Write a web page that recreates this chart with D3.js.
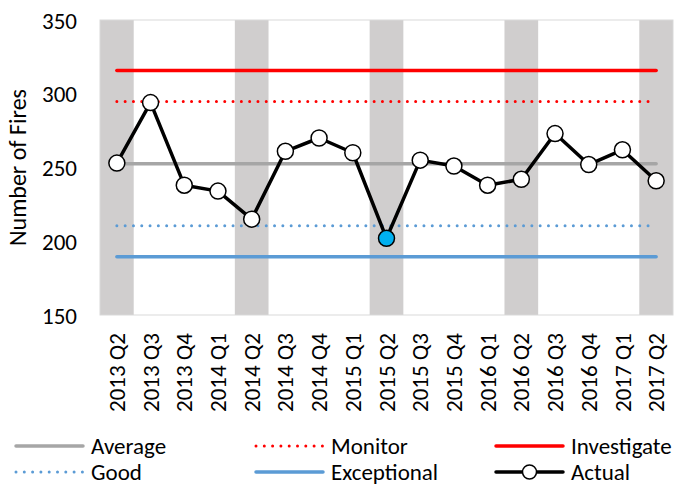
<!DOCTYPE html>
<html>
<head>
<meta charset="utf-8">
<script src="https://cdn.jsdelivr.net/npm/d3@7"></script>
<style>
  html, body { margin: 0; padding: 0; background: #fff; }
  svg { display: block; }
  text { font-family: Carlito, Lato, "Open Sans", sans-serif; fill: #000; }
</style>
</head>
<body>
<svg id="chart" width="678" height="485"></svg>
<script>
// Quarterly fire counts with control limits
const quarters = ["2013 Q2","2013 Q3","2013 Q4","2014 Q1","2014 Q2","2014 Q3","2014 Q4","2015 Q1",
                  "2015 Q2","2015 Q3","2015 Q4","2016 Q1","2016 Q2","2016 Q3","2016 Q4","2017 Q1","2017 Q2"];
const actual = [253, 294, 238, 234, 215, 261, 270, 260, 202, 255, 251, 238, 242, 273, 252, 262, 241];
const shadedQuarters = ["2013 Q2","2014 Q2","2015 Q2","2016 Q2","2017 Q2"];
const yTicks = [150, 200, 250, 300, 350];

// Control limit levels
const average = 252.6;
const monitor = 294.7;
const investigate = 315.8;
const good = 210.5;
const exceptional = 189.5;

const refLines = [
  { name: "Average",     value: average,     color: "#a6a6a6", dotted: false },
  { name: "Monitor",     value: monitor,     color: "#ff0000", dotted: true  },
  { name: "Investigate", value: investigate, color: "#ff0000", dotted: false },
  { name: "Good",        value: good,        color: "#5b9bd5", dotted: true  },
  { name: "Exceptional", value: exceptional, color: "#5b9bd5", dotted: false }
];

const svg = d3.select("#chart");
const plot = { left: 100, right: 673, top: 20, bottom: 315 };
const fontSize = "23px";

const x = d3.scaleBand().domain(quarters).range([plot.left, plot.right]).padding(0);
const y = d3.scaleLinear().domain([150, 350]).range([plot.bottom, plot.top]);
const cx = d => x(d) + x.bandwidth() / 2;

// plot background
svg.append("rect")
  .attr("x", plot.left).attr("y", plot.top)
  .attr("width", plot.right - plot.left).attr("height", plot.bottom - plot.top)
  .attr("fill", "#fff");

// shaded Q2 columns
svg.append("g").selectAll("rect").data(shadedQuarters).join("rect")
  .attr("x", d => x(d)).attr("y", plot.top)
  .attr("width", x.bandwidth()).attr("height", plot.bottom - plot.top)
  .attr("fill", "#d0cece");

// plot frame
svg.append("rect")
  .attr("x", plot.left).attr("y", plot.top)
  .attr("width", plot.right - plot.left).attr("height", plot.bottom - plot.top)
  .attr("fill", "none").attr("stroke", "#d9d9d9").attr("stroke-width", 1);

// y axis
const yAxis = svg.append("g")
  .attr("transform", `translate(${plot.left - 23},0)`)
  .call(d3.axisLeft(y).tickValues(yTicks).tickSize(0).tickPadding(0));
yAxis.select(".domain").remove();
yAxis.selectAll("text").style("font-size", fontSize).attr("dy", "0.35em");

svg.append("text")
  .attr("transform", `translate(18,${(plot.top + plot.bottom) / 2}) rotate(-90)`)
  .attr("text-anchor", "middle")
  .attr("dy", "0.35em")
  .style("font-size", "24px")
  .text("Number of Fires");

// x axis
const xAxis = svg.append("g")
  .attr("transform", `translate(0,${plot.bottom})`)
  .call(d3.axisBottom(x).tickSize(0));
xAxis.select(".domain").remove();
xAxis.selectAll("text")
  .style("font-size", fontSize)
  .attr("text-anchor", "end")
  .attr("transform", "translate(0,18) rotate(-90)")
  .attr("x", 0).attr("y", 0).attr("dy", "0.35em");

// control limit lines
const x0 = cx(quarters[0]), x1 = cx(quarters[quarters.length - 1]);
svg.append("g").selectAll("line").data(refLines).join("line")
  .attr("x1", x0).attr("x2", x1)
  .attr("y1", d => y(d.value)).attr("y2", d => y(d.value))
  .attr("stroke", d => d.color)
  .attr("stroke-width", d => d.dotted ? 3 : 3.5)
  .attr("stroke-linecap", "round")
  .attr("stroke-dasharray", d => d.dotted ? "0 8.3" : null);

// actual series
const line = d3.line().x((d, i) => cx(quarters[i])).y(d => y(d));
svg.append("path").datum(actual)
  .attr("d", line)
  .attr("fill", "none").attr("stroke", "#000").attr("stroke-width", 3.5)
  .attr("stroke-linejoin", "round");

svg.append("g").selectAll("circle").data(actual).join("circle")
  .attr("cx", (d, i) => cx(quarters[i]))
  .attr("cy", d => y(d))
  .attr("r", 8)
  .attr("fill", d => d < good ? "#00b0f0" : "#fff")
  .attr("stroke", "#000").attr("stroke-width", 1.5);

// legend
const legendItems = [
  { name: "Average",     color: "#a6a6a6", dotted: false, marker: false, col: 0, row: 0 },
  { name: "Monitor",     color: "#ff0000", dotted: true,  marker: false, col: 1, row: 0 },
  { name: "Investigate", color: "#ff0000", dotted: false, marker: false, col: 2, row: 0 },
  { name: "Good",        color: "#5b9bd5", dotted: true,  marker: false, col: 0, row: 1 },
  { name: "Exceptional", color: "#5b9bd5", dotted: false, marker: false, col: 1, row: 1 },
  { name: "Actual",      color: "#000",    dotted: false, marker: true,  col: 2, row: 1 }
];
const colX = [15, 255, 495];
const rowY = [446, 472];
const lg = svg.append("g").selectAll("g").data(legendItems).join("g")
  .attr("transform", d => `translate(${colX[d.col]},${rowY[d.row]})`);
lg.append("line")
  .attr("x1", 1).attr("x2", 68).attr("y1", 0).attr("y2", 0)
  .attr("stroke", d => d.color)
  .attr("stroke-width", d => d.dotted ? 3 : 3.5)
  .attr("stroke-linecap", "round")
  .attr("stroke-dasharray", d => d.dotted ? "0 8.3" : null);
lg.filter(d => d.marker).append("circle")
  .attr("cx", 34.5).attr("cy", 0).attr("r", 7)
  .attr("fill", "#fff").attr("stroke", "#000").attr("stroke-width", 1.5);
lg.append("text")
  .attr("x", 76).attr("y", 0).attr("dy", "0.35em")
  .style("font-size", fontSize)
  .text(d => d.name);
</script>
</body>
</html>
